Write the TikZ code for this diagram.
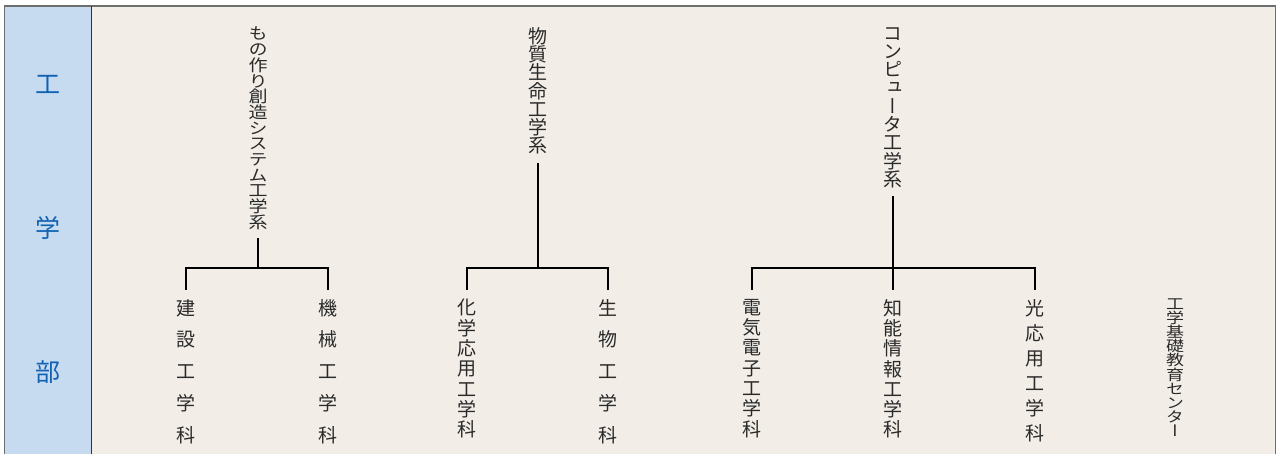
\documentclass[tikz,border=0pt]{standalone}
\usepackage{fontspec}
\newfontfamily\jp[RawFeature=+vert]{Noto Sans CJK JP}
\definecolor{colbg}{HTML}{C6DBF0}
\definecolor{mainbg}{HTML}{F2EEE7}
\definecolor{facblue}{HTML}{1262B3}
\definecolor{txtgray}{HTML}{2A2A2A}
\definecolor{framegray}{HTML}{6E6E6E}
\tikzset{
  vlab/.style={inner sep=0pt, anchor=north, align=center, text=txtgray},
  head/.style={vlab, font={\jp\fontsize{19}{18.3}\selectfont}},
  headc/.style={vlab, yscale=0.86, font={\jp\fontsize{19}{18.25}\selectfont}},
  deptw/.style={vlab, font={\jp\fontsize{19}{31.75}\selectfont}},
  deptn/.style={vlab, font={\jp\fontsize{19}{20.3}\selectfont}},
  depto/.style={vlab, font={\jp\fontsize{19}{25}\selectfont}},
  centre/.style={vlab, yscale=0.82, font={\jp\fontsize{18}{17.1}\selectfont}},
  fac/.style={inner sep=0pt, text=facblue, font={\jp\fontsize{25}{25}\selectfont}},
  tree/.style={draw=black, line width=1.2pt},
}
\begin{document}
\begin{tikzpicture}[x=1pt,y=-1pt]
\useasboundingbox (0,0) rectangle (1278,454);
\fill[white] (0,0) rectangle (1278,454);
\fill[mainbg] (4.5,6) rectangle (1275.5,454);
\fill[colbg] (4.5,6) rectangle (91.5,454);
\draw[framegray, line width=1.4pt] (4.5,454) -- (4.5,6) -- (1275.5,6) -- (1275.5,454);
\draw[black!80, line width=1pt] (91.5,6) -- (91.5,454);

\node[fac] (f1) at (47.5,84) {工};
\node[fac] (f2) at (47.5,228) {学};
\node[fac] (f3) at (47.5,372) {部};

% group 1
\node[headc] (h1) at (258,27) {も\\の\\作\\り\\創\\造\\シ\\ス\\テ\\ム\\工\\学\\系};
\coordinate (j1) at (258,268);
\node[deptw] (c11) at (186,299) {建\\設\\工\\学\\科};
\node[deptw] (c12) at (328,299) {機\\械\\工\\学\\科};
\draw[tree] ([yshift=-8pt]h1.south) -- (j1);
\draw[tree] ([yshift=9pt]c11.north) |- (j1) -| ([yshift=9pt]c12.north);

% group 2
\node[head] (h2) at (538,27) {物\\質\\生\\命\\工\\学\\系};
\coordinate (j2) at (538,268);
\node[deptn] (c21) at (467,299) {化\\学\\応\\用\\工\\学\\科};
\node[deptw] (c22) at (608,299) {生\\物\\工\\学\\科};
\draw[tree] ([yshift=-8pt]h2.south) -- (j2);
\draw[tree] ([yshift=9pt]c21.north) |- (j2) -| ([yshift=9pt]c22.north);

% group 3
\node[head] (h3) at (893,27) {コ\\ン\\ピ\\ュ\\ー\\タ\\工\\学\\系};
\coordinate (j3) at (893,268);
\node[deptn] (c31) at (752,299) {電\\気\\電\\子\\工\\学\\科};
\node[deptn] (c32) at (893,299) {知\\能\\情\\報\\工\\学\\科};
\node[depto] (c33) at (1035,299) {光\\応\\用\\工\\学\\科};
\draw[tree] ([yshift=-8pt]h3.south) -- ([yshift=9pt]c32.north);
\draw[tree] ([yshift=9pt]c31.north) |- (j3) -| ([yshift=9pt]c33.north);

% centre
\node[centre] (c4) at (1175,299) {工\\学\\基\\礎\\教\\育\\セ\\ン\\タ\\ー};
\end{tikzpicture}
\end{document}
